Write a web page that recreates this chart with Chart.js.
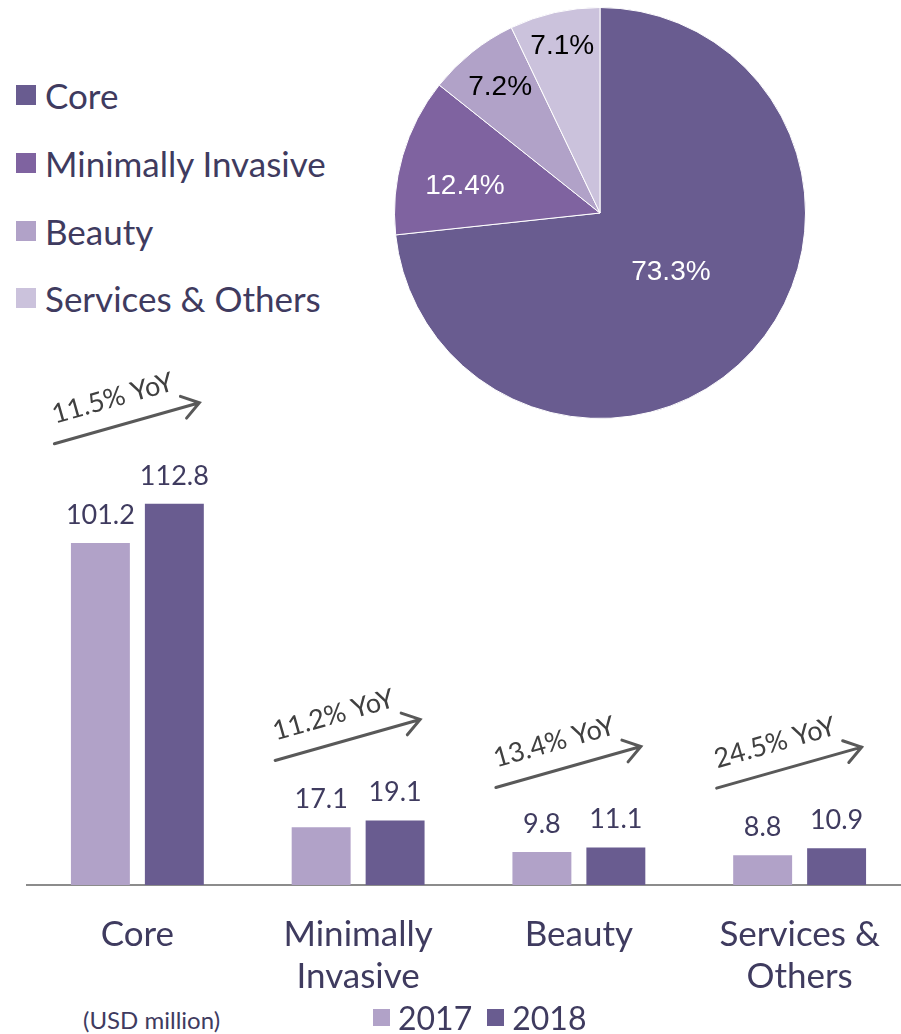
<!DOCTYPE html>
<html>
<head>
<meta charset="utf-8">
<script src="https://cdn.jsdelivr.net/npm/chart.js@4.4.0/dist/chart.umd.min.js"></script>
<style>
    html, body {
        margin: 0;
        padding: 0;
        width: 901px;
        height: 1034px;
        overflow: hidden;
        background: #fff;
        font-family: Lato, "Open Sans", sans-serif;
        color: #3f3b5f;
    }
    #pieChart { position: absolute; left: 394px; top: 7px; }
    #barChart { position: absolute; left: 0; top: 340px; }
    .seg-legend { position: absolute; left: 16px; top: 0; }
    .seg-item {
        position: absolute;
        left: 0;
        height: 40px;
        display: flex;
        align-items: center;
        font-size: 35px;
        white-space: nowrap;
    }
    .seg-item span.box { width: 20px; height: 20px; margin-right: 9px; display: inline-block; }
    .unit-note { position: absolute; left: 83px; top: 1005px; font-size: 24px; }
    .year-legend {
        position: absolute;
        left: 373px;
        top: 998px;
        font-size: 32px;
        display: flex;
        align-items: center;
    }
    .year-legend span.box { width: 17px; height: 17px; margin-right: 8px; display: inline-block; }
    .year-legend .yr { margin-right: 15px; }
</style>
</head>
<body>
<canvas id="pieChart" width="412" height="412"></canvas>
<canvas id="barChart" width="910" height="660"></canvas>
<div class="seg-legend" id="segLegend"></div>
<div class="unit-note">(USD million)</div>
<div class="year-legend" id="yearLegend"></div>
<script>
// revenue mix (pie)
const segments = ['Core', 'Minimally Invasive', 'Beauty', 'Services & Others'];
const shareValues = [73.3, 12.4, 7.2, 7.1];

// revenue by segment (bars)
const barCategories = [['Core'], ['Minimally', 'Invasive'], ['Beauty'], ['Services &', 'Others']];
const years = ['2017', '2018'];
const revenue2017 = [101.2, 17.1, 9.8, 8.8];
const revenue2018 = [112.8, 19.1, 11.1, 10.9];
const yoyLabels = ['11.5% YoY', '11.2% YoY', '13.4% YoY', '24.5% YoY'];

document.addEventListener('DOMContentLoaded', function() {
    const segColors = ['#695c90', '#7f63a0', '#b1a2c8', '#cbc2dc'];
    const yearColors = ['#b1a2c8', '#695c90'];
    const textColor = '#3f3b5f';

    // HTML legend for the pie
    const segLegend = document.getElementById('segLegend');
    const rowCenters = [95, 163, 231, 298];
    segments.forEach((name, i) => {
        const item = document.createElement('div');
        item.className = 'seg-item';
        item.style.top = (rowCenters[i] - 20) + 'px';
        item.innerHTML = '<span class="box" style="background:' + segColors[i] + '"></span>' + name;
        segLegend.appendChild(item);
    });

    // HTML legend for the years
    const yearLegend = document.getElementById('yearLegend');
    years.forEach((yr, i) => {
        yearLegend.innerHTML += '<span class="box" style="background:' + yearColors[i] + '"></span><span class="yr">' + yr + '</span>';
    });

    // Pie slice labels (radius fraction + small angle nudge, in degrees)
    const labelRadius = [0.45, 0.67, 0.78, 0.83];
    const labelShift = [-2, -5, 0, 0];
    const labelColors = ['#ffffff', '#ffffff', '#000000', '#000000'];
    const pieLabels = {
        id: 'pieLabels',
        afterDatasetsDraw(chart) {
            const ctx = chart.ctx;
            const meta = chart.getDatasetMeta(0);
            ctx.save();
            ctx.font = '28px "Liberation Sans", Arial, sans-serif';
            ctx.textAlign = 'center';
            ctx.textBaseline = 'middle';
            meta.data.forEach((arc, i) => {
                const p = arc.getProps(['x', 'y', 'startAngle', 'endAngle', 'outerRadius'], true);
                const mid = (p.startAngle + p.endAngle) / 2 + labelShift[i] * Math.PI / 180;
                const r = p.outerRadius * labelRadius[i];
                ctx.fillStyle = labelColors[i];
                ctx.fillText(shareValues[i].toFixed(1) + '%', p.x + Math.cos(mid) * r, p.y + Math.sin(mid) * r);
            });
            ctx.restore();
        }
    };

    new Chart(document.getElementById('pieChart'), {
        type: 'pie',
        data: {
            labels: segments,
            datasets: [{
                data: shareValues,
                backgroundColor: segColors,
                borderColor: '#ffffff',
                borderWidth: 1
            }]
        },
        options: {
            responsive: false,
            animation: false,
            layout: { padding: 0 },
            plugins: {
                legend: { display: false },
                tooltip: { enabled: false }
            }
        },
        plugins: [pieLabels]
    });

    // Value labels above bars + YoY arrows
    const barAnnotations = {
        id: 'barAnnotations',
        afterDatasetsDraw(chart) {
            const ctx = chart.ctx;
            const xScale = chart.scales.x;
            const yScale = chart.scales.y;
            ctx.save();
            ctx.font = '27px Lato, "Open Sans", sans-serif';
            ctx.textAlign = 'center';
            ctx.textBaseline = 'alphabetic';
            ctx.fillStyle = textColor;
            chart.data.datasets.forEach((ds, di) => {
                chart.getDatasetMeta(di).data.forEach((bar, i) => {
                    ctx.fillText(ds.data[i].toFixed(1), bar.x, bar.y - 19);
                });
            });

            const dx = 145, dy = -41;
            const len = Math.hypot(dx, dy);
            const ux = dx / len, uy = dy / len;
            const ang = Math.atan2(dy, dx);
            yoyLabels.forEach((txt, i) => {
                const sx = xScale.getPixelForValue(i) - 83;
                const sy = yScale.getPixelForValue(Math.max(revenue2017[i], revenue2018[i])) - 60;
                const ex = sx + dx, ey = sy + dy;
                ctx.strokeStyle = '#595959';
                ctx.lineWidth = 3;
                ctx.lineCap = 'round';
                ctx.beginPath();
                ctx.moveTo(sx, sy);
                ctx.lineTo(ex, ey);
                const head = 20, spread = 0.6;
                ctx.moveTo(ex - head * Math.cos(ang - spread), ey - head * Math.sin(ang - spread));
                ctx.lineTo(ex, ey);
                ctx.lineTo(ex - head * Math.cos(ang + spread), ey - head * Math.sin(ang + spread));
                ctx.stroke();

                // text sits parallel to the arrow, a bit above it
                const tx = sx + ux * 6 + uy * 19;
                const ty = sy + uy * 6 - ux * 19;
                ctx.save();
                ctx.translate(tx, ty);
                ctx.rotate(ang);
                ctx.textAlign = 'left';
                ctx.fillStyle = '#404040';
                ctx.fillText(txt, 0, 0);
                ctx.restore();
            });
            ctx.restore();
        }
    };

    new Chart(document.getElementById('barChart'), {
        type: 'bar',
        data: {
            labels: barCategories,
            datasets: [{
                label: years[0],
                data: revenue2017,
                backgroundColor: yearColors[0],
                barPercentage: 0.797,
                categoryPercentage: 0.67
            }, {
                label: years[1],
                data: revenue2018,
                backgroundColor: yearColors[1],
                barPercentage: 0.797,
                categoryPercentage: 0.67
            }]
        },
        options: {
            responsive: false,
            animation: false,
            layout: {
                padding: { left: 27, top: 38, right: 0, bottom: 0 }
            },
            scales: {
                x: {
                    grid: { display: false, drawTicks: false },
                    border: { display: true, color: '#8c8c8c', width: 2 },
                    ticks: {
                        padding: 29,
                        color: textColor,
                        maxRotation: 0,
                        autoSkip: false,
                        font: { family: 'Lato, "Open Sans", sans-serif', size: 35, lineHeight: 1.2 }
                    },
                    afterFit: function(scale) { scale.height = 115; }
                },
                y: {
                    display: false,
                    min: 0,
                    max: 150
                }
            },
            plugins: {
                legend: { display: false },
                tooltip: { enabled: false }
            }
        },
        plugins: [barAnnotations]
    });
});
</script>
</body>
</html>
